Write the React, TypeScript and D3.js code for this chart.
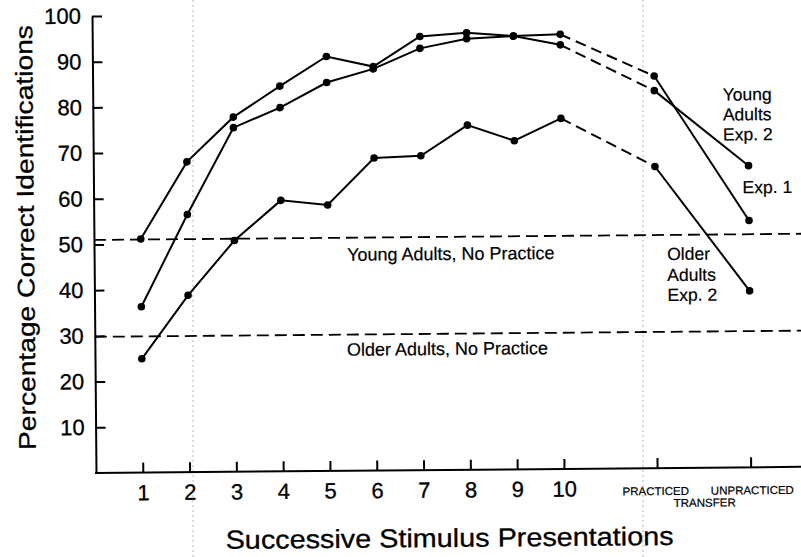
import React, { useRef, useEffect } from "react";
import * as d3 from "d3";

// x positions: presentations 1-10, then the two transfer tests
const presentations = [1, 2, 3, 4, 5, 6, 7, 8, 9, 10];
const transferPos = [12, 14];
const transferLabels = ["PRACTICED", "UNPRACTICED"];
const yTicks = [10, 20, 30, 40, 50, 60, 70, 80, 90, 100];

// percentage correct
const youngExp1 = [51.1, 67.9, 77.6, 84.3, 90.7, 88.4, 94.9, 95.6, 94.8, 95.1];
const youngExp1Transfer = [85.8, 54.0];
const youngExp2 = [36.3, 56.4, 75.3, 79.6, 85.0, 87.9, 92.3, 94.3, 94.8, 92.8];
const youngExp2Transfer = [82.6, 66.0];
const olderExp2 = [24.9, 38.7, 50.6, 59.3, 58.2, 68.4, 68.8, 75.4, 71.9, 76.7];
const olderExp2Transfer = [66.0, 38.6];

const youngNoPractice = 51.0;
const olderNoPractice = 29.8;

const FONT = "'Liberation Sans', Arial, Helvetica, sans-serif";

function App() {
  const svgRef = useRef<SVGSVGElement>(null);

  useEffect(() => {
    const svg = d3.select(svgRef.current);
    svg.selectAll("*").remove();

    const x = d3.scaleLinear().domain([0, 15]).range([96, 798]);
    const y = d3.scaleLinear().domain([0, 100]).range([473, 16]);

    // faint fold marks from the scanned page
    svg
      .selectAll(".fold")
      .data([193, 643])
      .join("line")
      .attr("class", "fold")
      .attr("x1", (d) => d)
      .attr("x2", (d) => d)
      .attr("y1", 0)
      .attr("y2", 557)
      .attr("stroke", "#b5b5b5")
      .attr("stroke-width", 1)
      .attr("stroke-dasharray", "2,3");

    // the scan is tilted slightly, so rotate the whole figure
    const g = svg.append("g").attr("transform", "rotate(-0.5,96,473)");

    // y axis
    const yAxis = g
      .append("g")
      .attr("transform", "translate(96,0)")
      .call(
        d3.axisLeft(y).tickValues(yTicks).tickSizeInner(-10).tickSizeOuter(0).tickPadding(11)
      );
    yAxis.select(".domain").attr("stroke", "#000").attr("stroke-width", 2);
    yAxis.selectAll("line").attr("stroke", "#000").attr("stroke-width", 2);
    yAxis
      .selectAll("text")
      .attr("font-family", FONT)
      .attr("font-size", 22)
      .attr("fill", "#000")
      .attr("stroke", "#000")
      .attr("stroke-width", 0.3);

    // x axis
    const xAxis = g
      .append("g")
      .attr("transform", "translate(0,473)")
      .call(
        d3.axisBottom(x).tickValues(presentations).tickSizeInner(-10).tickSizeOuter(0).tickPadding(12)
      );
    xAxis.select(".domain").remove();
    xAxis.selectAll("line").attr("stroke", "#000").attr("stroke-width", 2);
    xAxis
      .selectAll("text")
      .attr("font-family", FONT)
      .attr("font-size", 22)
      .attr("fill", "#000")
      .attr("stroke", "#000")
      .attr("stroke-width", 0.3);

    g.append("line")
      .attr("x1", 95)
      .attr("x2", 810)
      .attr("y1", 473)
      .attr("y2", 473)
      .attr("stroke", "#000")
      .attr("stroke-width", 2);

    g.selectAll(".transfer-tick")
      .data(transferPos)
      .join("line")
      .attr("class", "transfer-tick")
      .attr("x1", (d) => x(d))
      .attr("x2", (d) => x(d))
      .attr("y1", 473)
      .attr("y2", 463)
      .attr("stroke", "#000")
      .attr("stroke-width", 2);

    g.selectAll(".transfer-label")
      .data(transferPos)
      .join("text")
      .attr("class", "transfer-label")
      .attr("x", (d, i) => x(d) + (i === 0 ? -2 : 1))
      .attr("y", 500)
      .attr("text-anchor", "middle")
      .attr("font-family", FONT)
      .attr("font-size", 11.5)
      .attr("fill", "#000")
      .attr("stroke", "#000")
      .attr("stroke-width", 0.2)
      .text((d, i) => transferLabels[i]);

    g.append("text")
      .attr("x", (x(transferPos[0]) + x(transferPos[1])) / 2)
      .attr("y", 512)
      .attr("text-anchor", "middle")
      .attr("font-family", FONT)
      .attr("font-size", 11.5)
      .attr("fill", "#000")
      .attr("stroke", "#000")
      .attr("stroke-width", 0.2)
      .text("TRANSFER");

    // axis titles
    g.append("text")
      .attr("transform", "translate(36,237) rotate(-90)")
      .attr("text-anchor", "middle")
      .attr("font-family", FONT)
      .attr("font-size", 24)
      .attr("textLength", 425)
      .attr("lengthAdjust", "spacingAndGlyphs")
      .attr("fill", "#000")
      .attr("stroke", "#000")
      .attr("stroke-width", 0.3)
      .text("Percentage Correct Identifications");

    g.append("text")
      .attr("x", 449)
      .attr("y", 550)
      .attr("text-anchor", "middle")
      .attr("font-family", FONT)
      .attr("font-size", 26)
      .attr("textLength", 448)
      .attr("lengthAdjust", "spacingAndGlyphs")
      .attr("fill", "#000")
      .attr("stroke", "#000")
      .attr("stroke-width", 0.3)
      .text("Successive Stimulus Presentations");

    // no-practice baselines
    g.selectAll(".baseline")
      .data([youngNoPractice, olderNoPractice])
      .join("line")
      .attr("class", "baseline")
      .attr("x1", 96)
      .attr("x2", 810)
      .attr("y1", (d) => y(d))
      .attr("y2", (d) => y(d))
      .attr("stroke", "#000")
      .attr("stroke-width", 1.8)
      .attr("stroke-dasharray", "12,6");

    const line = d3
      .line<[number, number]>()
      .x((d) => x(d[0]))
      .y((d) => y(d[1]));

    const series = [
      [youngExp1, youngExp1Transfer],
      [youngExp2, youngExp2Transfer],
      [olderExp2, olderExp2Transfer],
    ];

    series.forEach(([vals, tr]) => {
      const main: [number, number][] = presentations.map((p, i) => [p, vals[i]]);
      const gap: [number, number][] = [
        [10, vals[9]],
        [transferPos[0], tr[0]],
      ];
      const transfer: [number, number][] = transferPos.map((p, i) => [p, tr[i]]);

      g.append("path")
        .attr("d", line(main))
        .attr("fill", "none")
        .attr("stroke", "#000")
        .attr("stroke-width", 2);
      g.append("path")
        .attr("d", line(gap))
        .attr("fill", "none")
        .attr("stroke", "#000")
        .attr("stroke-width", 2)
        .attr("stroke-dasharray", "11,6");
      g.append("path")
        .attr("d", line(transfer))
        .attr("fill", "none")
        .attr("stroke", "#000")
        .attr("stroke-width", 2);

      g.selectAll(null)
        .data(main.concat(transfer))
        .join("circle")
        .attr("cx", (d) => x(d[0]))
        .attr("cy", (d) => y(d[1]))
        .attr("r", 3.8)
        .attr("fill", "#000");
    });

    // annotations
    const notes: [string, number, number, number][] = [
      ["Young Adults, No Practice", 349, 263, 18],
      ["Older Adults, No Practice", 348, 358, 18],
      ["Young", 726, 106, 17.5],
      ["Adults", 726, 126, 17.5],
      ["Exp. 2", 726, 146, 17.5],
      ["Exp. 1", 745, 199, 17.5],
      ["Older", 669, 265, 17.5],
      ["Adults", 669, 286, 17.5],
      ["Exp. 2", 669, 306, 17.5],
    ];
    g.selectAll(".note")
      .data(notes)
      .join("text")
      .attr("class", "note")
      .attr("x", (d) => d[1])
      .attr("y", (d) => d[2])
      .attr("font-size", (d) => d[3])
      .attr("font-family", FONT)
      .attr("fill", "#000")
      .attr("stroke", "#000")
      .attr("stroke-width", 0.2)
      .text((d) => d[0]);
  }, []);

  return (
    <svg
      ref={svgRef}
      width={801}
      height={557}
      style={{ position: "absolute", left: 0, top: 0, background: "#fff" }}
    />
  );
}

export default App;
